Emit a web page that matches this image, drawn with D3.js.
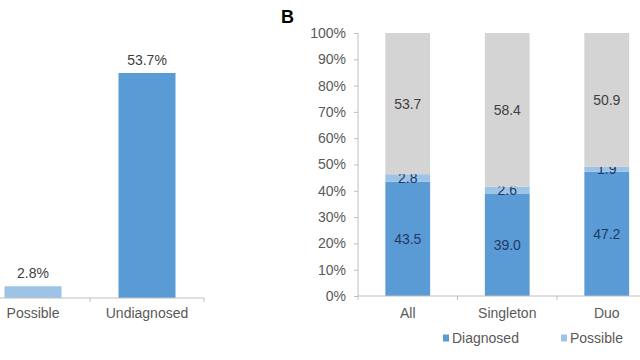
<!DOCTYPE html>
<html><head><meta charset="utf-8">
<script src="https://cdn.jsdelivr.net/npm/d3@7"></script>
<style>body{margin:0;background:#fff}svg{display:block}text{font-family:"Liberation Sans",Arial,sans-serif}</style>
</head><body><svg id="c" width="640" height="360"></svg>
<script>
// Panel A (partly visible)
const aCategories = ["Possible", "Undiagnosed"];
const aValues = [2.8, 53.7];
// Panel B
const bCategories = ["All", "Singleton", "Duo"];
const seriesNames = ["Diagnosed", "Possible", "Undiagnosed"];
const diagnosed = [43.5, 39.0, 47.2];
const possible = [2.8, 2.6, 1.9];
const undiagnosed = [53.7, 58.4, 50.9];
const yTicks = [0,10,20,30,40,50,60,70,80,90,100];

const colors = {Diagnosed:"#5b9bd5", Possible:"#9dc3e6", Undiagnosed:"#d4d4d4"};
const svg = d3.select("#c");
const axisCol = "#bfbfbf", textCol = "#595959";

// ---- Panel A ----
const ax = d3.scaleBand().domain(aCategories).range([-24, 204]).paddingInner(0.5).paddingOuter(0.25);
const ay = d3.scaleLinear().domain([0, 60]).range([298, 298 - 60*4.19]);
const gA = svg.append("g");
gA.selectAll("rect").data(aCategories).join("rect")
  .attr("x", d => ax(d)).attr("width", ax.bandwidth())
  .attr("y", (d,i) => ay(aValues[i])).attr("height", (d,i) => ay(0) - ay(aValues[i]))
  .attr("fill", (d,i) => i === 0 ? colors.Possible : colors.Diagnosed);
gA.selectAll("text.v").data(aCategories).join("text").attr("class","v")
  .attr("x", d => ax(d) + ax.bandwidth()/2).attr("y", (d,i) => ay(aValues[i]) - 8)
  .attr("text-anchor","middle").attr("font-size",14).attr("fill","#404040")
  .text((d,i) => aValues[i].toFixed(1) + "%");
const axA = gA.append("g").attr("transform", `translate(0,${ay(0)})`)
  .call(d3.axisBottom(ax).tickSize(0).tickPadding(10));
axA.select(".domain").attr("stroke", axisCol).attr("d", "M0,0H204");
axA.selectAll("text").attr("font-size",14).attr("fill",textCol).attr("font-family","Liberation Sans, Arial, sans-serif");
[90, 204].forEach(x => gA.append("line").attr("x1",x).attr("x2",x).attr("y1",ay(0)).attr("y2",ay(0)+4).attr("stroke",axisCol));

// ---- Panel B ----
svg.append("text").attr("x", 281).attr("y", 23).attr("font-size", 18).attr("font-weight","bold").attr("fill","#000").text("B");
const bx = d3.scaleBand().domain(bCategories).range([358, 656.5]).paddingInner(0.55).paddingOuter(0.275);
const by = d3.scaleLinear().domain([0, 100]).range([296, 33]);
const rows = bCategories.map((c,i) => ({cat:c, Diagnosed:diagnosed[i], Possible:possible[i], Undiagnosed:undiagnosed[i]}));
const stack = d3.stack().keys(seriesNames)(rows);
const gB = svg.append("g");
// y axis
const yAx = gB.append("g").attr("transform","translate(358,0)")
  .call(d3.axisLeft(by).tickValues(yTicks).tickFormat(d => d + "%").tickSize(4).tickPadding(8));
yAx.select(".domain").attr("stroke", axisCol).attr("d","M0,33V296");
yAx.selectAll("line").attr("stroke", axisCol);
yAx.selectAll("text").attr("font-size",14).attr("fill",textCol).attr("font-family","Liberation Sans, Arial, sans-serif");
// bars
stack.forEach(layer => {
  const key = layer.key;
  gB.append("g").selectAll("rect").data(layer).join("rect")
    .attr("x", d => bx(d.data.cat)).attr("width", bx.bandwidth())
    .attr("y", d => by(d[1])).attr("height", d => by(d[0]) - by(d[1]))
    .attr("fill", colors[key]);
  gB.append("g").selectAll("text").data(layer).join("text")
    .attr("x", d => bx(d.data.cat) + bx.bandwidth()/2)
    .attr("y", d => by((d[0]+d[1])/2) + 5)
    .attr("text-anchor","middle").attr("font-size",14)
    .attr("fill", key === "Undiagnosed" ? "#404040" : "#1f3a66")
    .text(d => (d[1]-d[0]).toFixed(1));
});
// x axis
const xAx = gB.append("g").attr("transform", `translate(0,${by(0)})`)
  .call(d3.axisBottom(bx).tickSize(0).tickPadding(12));
xAx.select(".domain").attr("stroke", axisCol).attr("d","M358,0H640");
xAx.selectAll("text").attr("font-size",14).attr("fill",textCol).attr("font-family","Liberation Sans, Arial, sans-serif");
[0,1,2].forEach(i => { const x = 358 + i*(656.5-358)/3;
  gB.append("line").attr("x1",x).attr("x2",x).attr("y1",by(0)).attr("y2",by(0)+4).attr("stroke",axisCol); });
// legend
const legendItems = [{name:"Diagnosed", x:443}, {name:"Possible", x:561}];
const lg = gB.append("g").selectAll("g").data(legendItems).join("g").attr("transform", d => `translate(${d.x},338)`);
lg.append("rect").attr("x",0).attr("y",-3.5).attr("width",6).attr("height",7).attr("fill", d => colors[d.name]);
lg.append("text").attr("x",9).attr("y",5).attr("font-size",14).attr("fill",textCol).text(d => d.name);
</script></body></html>
